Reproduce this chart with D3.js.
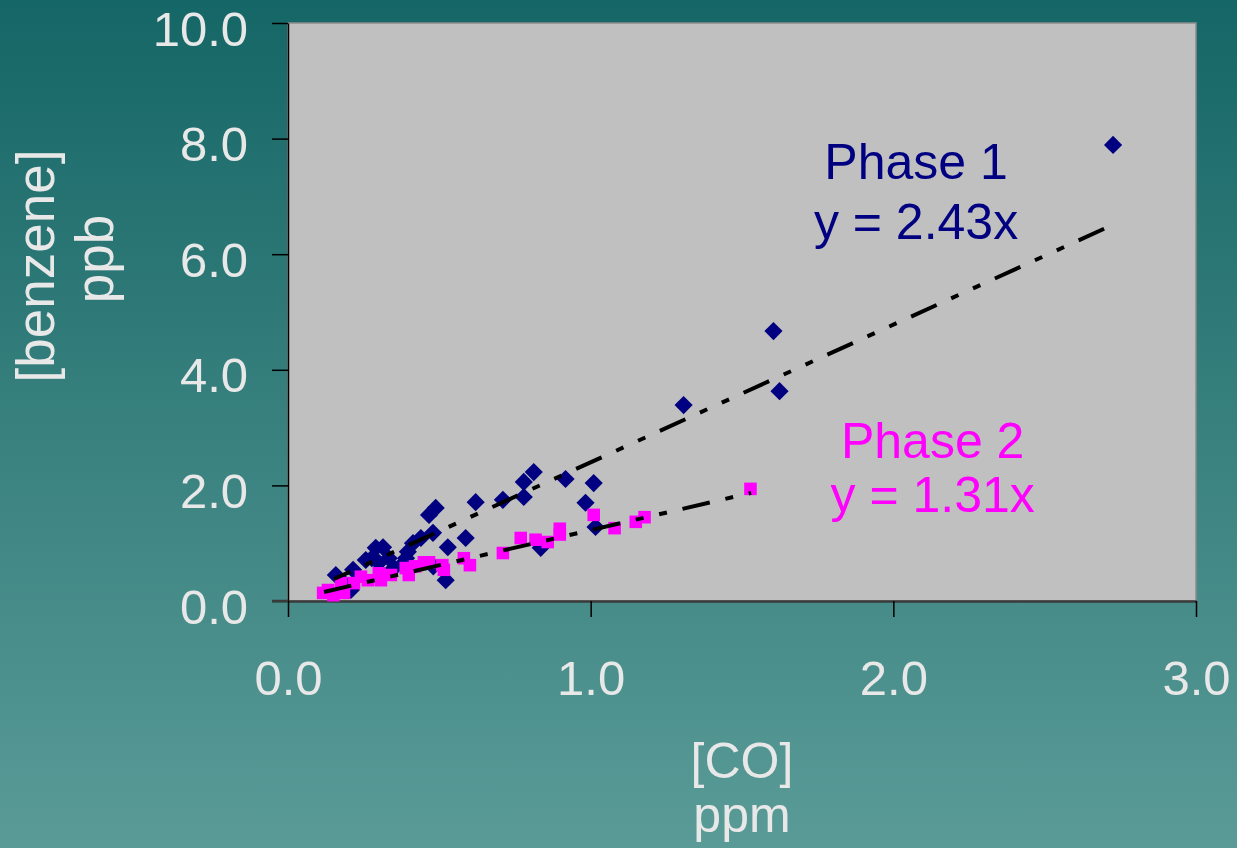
<!DOCTYPE html>
<html>
<head>
<meta charset="utf-8">
<script src="https://cdn.jsdelivr.net/npm/d3@7"></script>
<style>
html,body{margin:0;padding:0;overflow:hidden;}
svg{display:block;font-family:"Liberation Sans",Arial,sans-serif;}
.tk text{fill:#e8e8e8;}
</style>
</head>
<body>
<svg id="chart"></svg>
<script>
const W=1237,H=848;

// Phase 1 (navy diamonds)
const p1x=[2.726,1.604,1.624,1.307,0.917,1.010,0.983,1.016,0.812,0.779,0.779,0.710,0.620,0.488,0.466,0.479,0.587,0.528,0.835,0.521,0.413,0.439,0.290,0.333,0.396,0.257,0.300,0.215,0.158,0.185,0.350,0.383,0.208,0.480,0.314,0.277,0.390];
const p1y=[7.89,4.67,3.63,3.39,2.11,2.04,1.70,1.28,2.23,2.06,1.80,1.75,1.71,1.61,1.49,1.18,1.09,0.93,0.92,0.36,1.00,1.09,0.92,0.74,0.85,0.71,0.66,0.54,0.45,0.31,0.57,0.66,0.19,0.60,0.93,0.74,0.74];
// Phase 2 (magenta squares)
const p2x=[1.528,1.010,1.079,1.149,1.178,0.898,0.898,0.858,0.818,0.769,0.710,0.581,0.601,0.466,0.510,0.515,0.449,0.389,0.340,0.300,0.264,0.218,0.175,0.132,0.185,0.399,0.307,0.116,0.241,0.420,0.150];
const p2y=[1.94,1.49,1.26,1.37,1.45,1.25,1.15,1.02,1.06,1.09,0.83,0.74,0.62,0.67,0.62,0.54,0.67,0.57,0.45,0.48,0.36,0.31,0.31,0.19,0.14,0.45,0.36,0.14,0.42,0.60,0.10];
// trend line end points
const trend1x=[0.152,2.726], trend1y=[0.38,6.51];
const trend2x=[0.119,1.53], trend2y=[0.156,1.87];

const xTicks=[0,1,2,3];
const yTicks=[0,2,4,6,8,10];
const labels=[
  {lines:['Phase 1','y = 2.43x'],x:2.075,y:[7.3,6.26],color:'#000080'},
  {lines:['Phase 2','y = 1.31x'],x:2.13,y:[2.48,1.54],color:'#ff00ff'}
];

const svg=d3.select('#chart').attr('width',W).attr('height',H);
const defs=svg.append('defs');
const bg=defs.append('linearGradient').attr('id','bg').attr('x1',0).attr('y1',0).attr('x2',0).attr('y2',1);
bg.append('stop').attr('offset','0%').attr('stop-color','#156666');
bg.append('stop').attr('offset','100%').attr('stop-color','#5a9b97');
svg.append('rect').attr('width',W).attr('height',H).attr('fill','url(#bg)');

const x=d3.scaleLinear().domain([0,3]).range([288,1196]);
const y=d3.scaleLinear().domain([0,10]).range([601,23]);

svg.append('rect').attr('x',x(0)).attr('y',y(10)).attr('width',x(3)-x(0)).attr('height',y(0)-y(10))
  .attr('fill','#c0c0c0').attr('stroke','#8c8c8c').attr('stroke-width',1.5);

// axes
const gy=svg.append('g').attr('class','tk').attr('transform',`translate(${x(0)},0)`)
  .call(d3.axisLeft(y).tickValues(yTicks).tickFormat(d3.format('.1f')).tickSize(16).tickSizeOuter(0).tickPadding(24));
gy.select('.domain').attr('stroke','#000').attr('stroke-width',1.5);
gy.selectAll('.tick line').attr('stroke','#000').attr('stroke-width',1.5);
gy.selectAll('.tick text').attr('dy','22px').attr('font-size',49).attr('font-family','"Liberation Sans",Arial,sans-serif');

const gx=svg.append('g').attr('class','tk').attr('transform',`translate(0,${y(0)})`)
  .call(d3.axisBottom(x).tickValues(xTicks).tickFormat(d3.format('.1f')).tickSize(16).tickSizeOuter(0));
gx.select('.domain').attr('stroke','#3a3a3a').attr('stroke-width',2.5);
gx.selectAll('.tick line').attr('stroke','#000').attr('stroke-width',1.5);
gx.selectAll('.tick text').attr('y',94).attr('dy',0).attr('font-size',49).attr('font-family','"Liberation Sans",Arial,sans-serif');
svg.append('line').attr('x1',272).attr('x2',x(0)).attr('y1',y(0)).attr('y2',y(0)).attr('stroke','#3a3a3a').attr('stroke-width',2.5);

// axis titles
const tCol='#e8e8e8';
svg.append('text').attr('x',742).attr('y',778).attr('text-anchor','middle').attr('fill',tCol).attr('font-size',50).text('[CO]');
svg.append('text').attr('x',742).attr('y',832).attr('text-anchor','middle').attr('fill',tCol).attr('font-size',50).text('ppm');
svg.append('text').attr('transform','translate(54,266) rotate(-90)').attr('text-anchor','middle').attr('fill',tCol).attr('font-size',53).text('[benzene]');
svg.append('text').attr('transform','translate(113,259) rotate(-90)').attr('text-anchor','middle').attr('fill',tCol).attr('font-size',53).text('ppb');

// markers
const diamond=d3.symbol().type(d3.symbolSquare).size(165);
svg.append('g').selectAll('path').data(d3.range(p1x.length)).join('path')
  .attr('d',diamond).attr('transform',i=>`translate(${x(p1x[i])},${y(p1y[i])}) rotate(45)`).attr('fill','#000080');
const square=d3.symbol().type(d3.symbolSquare).size(158);
svg.append('g').selectAll('path').data(d3.range(p2x.length)).join('path')
  .attr('d',square).attr('transform',i=>`translate(${x(p2x[i])},${y(p2y[i])})`).attr('fill','#ff00ff');

// trend lines
const line=d3.line().x(d=>x(d[0])).y(d=>y(d[1]));
[[trend1x,trend1y,10],[trend2x,trend2y,0]].forEach(([tx,ty,off])=>{
  svg.append('path').datum(d3.zip(tx,ty)).attr('d',line).attr('fill','none')
    .attr('stroke','#000').attr('stroke-width',4).attr('stroke-dasharray','28,16,8,16,8,16').attr('stroke-dashoffset',off);
});

// phase labels
labels.forEach(l=>{
  l.lines.forEach((s,k)=>{
    svg.append('text').attr('x',x(l.x)).attr('y',y(l.y[k])).attr('text-anchor','middle')
      .attr('fill',l.color).attr('font-size',50).text(s);
  });
});
</script>
</body>
</html>
